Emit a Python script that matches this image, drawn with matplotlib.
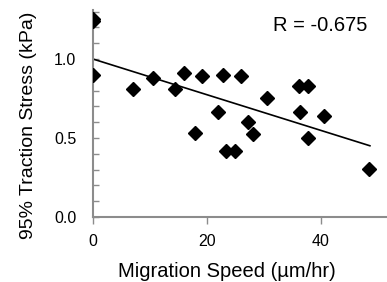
import numpy as np
import matplotlib
matplotlib.use("Agg")
import matplotlib.pyplot as plt
from matplotlib.ticker import MultipleLocator, FixedLocator

speed = [0, 0, 0, 7.1, 10.5, 14.4, 15.9, 19.1, 18.0, 21.9, 22.9, 23.3, 25.0, 26.0,
         27.3, 28.1, 30.5, 36.1, 37.7, 36.3, 37.7, 40.6, 48.4]
stress = [1.24, 1.25, 0.90, 0.81, 0.882, 0.81, 0.911, 0.89, 0.53, 0.662, 0.897, 0.418,
          0.418, 0.89, 0.603, 0.523, 0.751, 0.829, 0.829, 0.662, 0.498, 0.639, 0.304]
fit_intercept = 1.0
fit_slope = -0.0113
fit_range = [0, 48.6]
r_text = "R = -0.675"

plt.rcParams['font.family'] = ['Liberation Sans', 'DejaVu Sans']
fig = plt.figure(figsize=(3.87, 2.82), dpi=100)
ax = fig.add_axes([0.240, 0.2305, 0.76, 0.734])

ax.plot(speed, stress, linestyle='none', marker='D', color='black', ms=7, zorder=3)
xf = np.array(fit_range)
ax.plot(xf, fit_intercept + fit_slope * xf, color='black', lw=1.2)

ax.set_xlim(0, 51.6)
ax.set_ylim(0, 1.31)
ax.xaxis.set_major_locator(FixedLocator([0, 20, 40]))
ax.yaxis.set_major_locator(MultipleLocator(0.5))
ax.yaxis.set_minor_locator(MultipleLocator(0.1))
ax.yaxis.set_major_formatter(matplotlib.ticker.FormatStrFormatter('%.1f'))

gray = '#8c8c8c'
for s in ['top', 'right']:
    ax.spines[s].set_visible(False)
for s in ['left', 'bottom']:
    ax.spines[s].set_color(gray)
    ax.spines[s].set_linewidth(1.5)
ax.tick_params(axis='y', which='both', direction='in', length=4, color=gray, width=1,
               labelsize=11.5, pad=12)
ax.tick_params(axis='x', which='both', direction='out', length=5, color=gray, width=1,
               labelsize=11.5, pad=7)

ax.set_xlabel('Migration Speed (µm/hr)', fontsize=14.5)
ax.set_ylabel('95% Traction Stress (kPa)', fontsize=14)
ax.xaxis.set_label_coords((227 - 93) / 294, -0.215)
ax.yaxis.set_label_coords(-0.19, (217 - 125) / 207)

ax.text(0.932, 0.927, r_text, transform=ax.transAxes, ha='right', va='center', fontsize=14.5)

fig.savefig('out.png', dpi=100)
